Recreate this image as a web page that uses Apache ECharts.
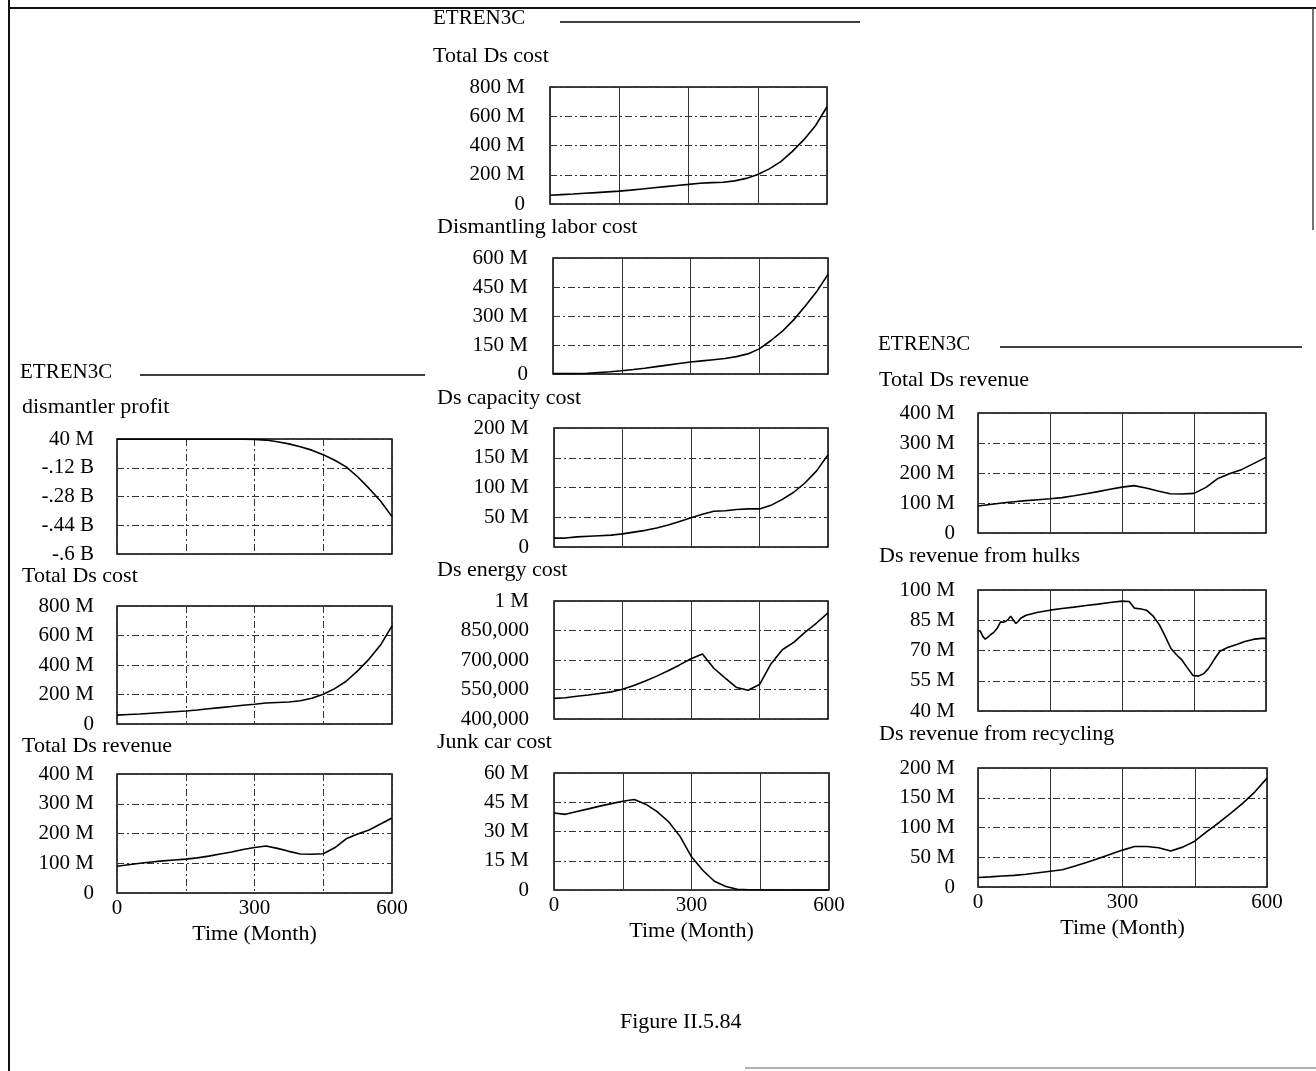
<!DOCTYPE html>
<html><head><meta charset="utf-8">
<script src="https://cdn.jsdelivr.net/npm/echarts@6/dist/echarts.min.js"></script>
<style>html,body{margin:0;padding:0;background:#fff}#c{width:1316px;height:1071px}</style>
</head><body><div id="c"></div>
<script>
// ---------- DATA ----------
const MONTHS = [0,25,50,75,100,125,150,175,200,225,250,275,300,325,350,375,400,425,450,475,500,525,550,575,600];
const PROFIT = [39,39,39,39,39,39,39,39,39,39,39,39,38,34,25,13,-3,-22,-47,-78,-115,-170,-235,-305,-392];
const TOTAL_COST = [60,64,68,73,78,83,88,95,103,111,119,127,134,142,146,149,158,175,202,240,290,360,440,535,665];
const TOTAL_REV = [90,95,100,104,108,111,114,118,124,131,138,146,153,158,150,140,131,130,132,152,182,198,212,232,252];
const LABOR = [2,2,2,3,8,12,17,23,30,38,46,54,62,68,74,80,90,104,130,172,220,280,350,425,515];
const CAPACITY = [15,15,17,18,19,20,22,25,28,32,37,43,49,55,60,61,63,64,64,70,80,92,108,128,155];
const ENERGY = [505000,508000,516000,522000,530000,538000,551000,570000,593000,618000,645000,675000,706000,730000,658000,608000,560000,546000,575000,680000,752000,790000,842000,888000,940000];
const JUNK = [39.5,38.8,40.3,41.6,43,44.3,45.5,46.4,44,40.2,35,27.5,17,10,4.5,1.8,0.4,0.1,0,0,0,0,0,0,0];
const RECYCLING = [16,17,18.5,19.5,21.5,24,26.5,29,35,41,48,55,62,68,68,66,60.5,67,77,93,108,124,141,160,183];
const HULK_MONTHS = [0,5,10,15,20,26,33,40,47,53,58,63,68,74,79,84,89,100,125,150,175,200,225,250,275,300,315,326,340,351,365,378,390,402,413,424,436,448,459,470,480,492,504,520,539,556,573,590,600];
const HULKS = [80,79.5,77,75.6,76.5,77.8,79,81,84.2,84,84.5,85.5,87,85,83.4,84.5,86,87.5,89,90,90.8,91.5,92.3,93,93.8,94.5,94.3,91,90.6,90,87,82.7,77,71,68,65.5,61.5,57.6,57.3,58.5,61,65.5,69.6,71.5,73,74.5,75.5,76,76];

// tick values and labels
const X_TICKS = [0,150,300,450,600];
const X_LABELS = [0,300,600];
const PROFIT_TICKS = [-600,-440,-280,-120,40];
const PROFIT_LABELS = ['-.6 B','-.44 B','-.28 B','-.12 B','40 M'];
const COST_TICKS = [0,200,400,600,800];
const COST_LABELS = ['0','200 M','400 M','600 M','800 M'];
const REV_TICKS = [0,100,200,300,400];
const REV_LABELS = ['0','100 M','200 M','300 M','400 M'];
const LABOR_TICKS = [0,150,300,450,600];
const LABOR_LABELS = ['0','150 M','300 M','450 M','600 M'];
const CAP_TICKS = [0,50,100,150,200];
const CAP_LABELS = ['0','50 M','100 M','150 M','200 M'];
const ENERGY_TICKS = [400000,550000,700000,850000,1000000];
const ENERGY_LABELS = ['400,000','550,000','700,000','850,000','1 M'];
const JUNK_TICKS = [0,15,30,45,60];
const JUNK_LABELS = ['0','15 M','30 M','45 M','60 M'];
const HULK_TICKS = [40,55,70,85,100];
const HULK_LABELS = ['40 M','55 M','70 M','85 M','100 M'];
const RECYC_TICKS = [0,50,100,150,200];
const RECYC_LABELS = ['0','50 M','100 M','150 M','200 M'];

// ---------- LAYOUT ----------
const FONT = 'Liberation Serif';
const panels = [
  {title:'dismantler profit', tx:22, ty:408, left:117, top:439, width:275, height:115, xs:MONTHS, ys:PROFIT, ticks:PROFIT_TICKS, labels:PROFIT_LABELS, margin:23, vsolid:false, xlab:false},
  {title:'Total Ds cost', tx:22, ty:577, left:117, top:606, width:275, height:118, xs:MONTHS, ys:TOTAL_COST, ticks:COST_TICKS, labels:COST_LABELS, margin:23, vsolid:false, xlab:false},
  {title:'Total Ds revenue', tx:22, ty:747, left:117, top:774, width:275, height:119, xs:MONTHS, ys:TOTAL_REV, ticks:REV_TICKS, labels:REV_LABELS, margin:23, vsolid:false, xlab:true},
  {title:'Total Ds cost', tx:433, ty:57, left:550, top:87, width:277, height:117, xs:MONTHS, ys:TOTAL_COST, ticks:COST_TICKS, labels:COST_LABELS, margin:25, vsolid:true, xlab:false},
  {title:'Dismantling labor cost', tx:437, ty:228, left:553, top:258, width:275, height:116, xs:MONTHS, ys:LABOR, ticks:LABOR_TICKS, labels:LABOR_LABELS, margin:25, vsolid:true, xlab:false},
  {title:'Ds capacity cost', tx:437, ty:399, left:554, top:428, width:274, height:119, xs:MONTHS, ys:CAPACITY, ticks:CAP_TICKS, labels:CAP_LABELS, margin:25, vsolid:true, xlab:false},
  {title:'Ds energy cost', tx:437, ty:571, left:554, top:601, width:274, height:118, xs:MONTHS, ys:ENERGY, ticks:ENERGY_TICKS, labels:ENERGY_LABELS, margin:25, vsolid:true, xlab:false},
  {title:'Junk car cost', tx:437, ty:743, left:554, top:773, width:275, height:117, xs:MONTHS, ys:JUNK, ticks:JUNK_TICKS, labels:JUNK_LABELS, margin:25, vsolid:true, xlab:true},
  {title:'Total Ds revenue', tx:879, ty:381, left:978, top:413, width:288, height:120, xs:MONTHS, ys:TOTAL_REV, ticks:REV_TICKS, labels:REV_LABELS, margin:23, vsolid:true, xlab:false},
  {title:'Ds revenue from hulks', tx:879, ty:557, left:978, top:590, width:288, height:121, xs:HULK_MONTHS, ys:HULKS, ticks:HULK_TICKS, labels:HULK_LABELS, margin:23, vsolid:true, xlab:false},
  {title:'Ds revenue from recycling', tx:879, ty:735, left:978, top:768, width:289, height:119, xs:MONTHS, ys:RECYCLING, ticks:RECYC_TICKS, labels:RECYC_LABELS, margin:23, vsolid:true, xlab:true}
];

const GRID_DASH = [7,3,2,3];
const textStyleBase = {fontFamily:FONT, color:'#000'};

const option = {
  animation:false,
  backgroundColor:'#fff',
  grid: panels.map(p => ({left:p.left, top:p.top, width:p.width, height:p.height, show:true, borderColor:'#000', borderWidth:1.5, backgroundColor:'transparent', containLabel:false})),
  xAxis: panels.map((p,i) => ({
    type:'value', gridIndex:i, min:0, max:600, interval:150,
    axisLine:{show:false}, axisTick:{show:false},
    splitLine:{show:true, lineStyle:{color:'#333', width:1, type: p.vsolid ? 'solid' : GRID_DASH}},
    axisLabel:{show:p.xlab, formatter: v => X_LABELS.indexOf(v) >= 0 ? String(v) : '', fontFamily:FONT, fontSize:21, color:'#000', margin:5, showMinLabel:true, showMaxLabel:true, hideOverlap:false},
    name: p.xlab ? 'Time (Month)' : '', nameLocation:'middle', nameGap:30,
    nameTextStyle:{fontFamily:FONT, fontSize:22, color:'#000'}
  })),
  yAxis: panels.map((p,i) => ({
    type:'value', gridIndex:i, min:p.ticks[0], max:p.ticks[p.ticks.length-1],
    axisLine:{show:false},
    axisTick:{show:false, customValues:p.ticks},
    splitLine:{show:true, lineStyle:{color:'#333', width:1, type:GRID_DASH}},
    axisLabel:{customValues:p.ticks, formatter: v => { const k = p.ticks.indexOf(v); return k >= 0 ? p.labels[k] : ''; }, fontFamily:FONT, fontSize:21, color:'#000', margin:p.margin, hideOverlap:false}
  })),
  series: panels.map((p,i) => ({
    type:'line', xAxisIndex:i, yAxisIndex:i, showSymbol:false, silent:true,
    data: p.xs.map((x,k) => [x, p.ys[k]]),
    lineStyle:{color:'#000', width:1.6}
  })),
  graphic: [
    // page frame
    {type:'line', shape:{x1:9, y1:0, x2:9, y2:1071}, style:{stroke:'#111', lineWidth:2}},
    {type:'line', shape:{x1:9, y1:8, x2:1316, y2:8}, style:{stroke:'#111', lineWidth:2}},
    {type:'line', shape:{x1:1313, y1:8, x2:1313, y2:230}, style:{stroke:'#444', lineWidth:1.5}},
    {type:'line', shape:{x1:745, y1:1068, x2:1316, y2:1068}, style:{stroke:'#999', lineWidth:1.5}},
    // headers
    {type:'text', left:20, top:362, style:Object.assign({text:'ETREN3C', font:'21px "Liberation Serif"'}, {fill:'#000'})},
    {type:'line', shape:{x1:140, y1:375, x2:425, y2:375}, style:{stroke:'#000', lineWidth:1.5}},
    {type:'text', left:433, top:8, style:{text:'ETREN3C', font:'21px "Liberation Serif"', fill:'#000'}},
    {type:'line', shape:{x1:560, y1:22, x2:860, y2:22}, style:{stroke:'#000', lineWidth:1.5}},
    {type:'text', left:878, top:334, style:{text:'ETREN3C', font:'21px "Liberation Serif"', fill:'#000'}},
    {type:'line', shape:{x1:1000, y1:347, x2:1302, y2:347}, style:{stroke:'#000', lineWidth:1.5}},
    // caption
    {type:'text', left:620, top:1011, style:{text:'Figure II.5.84', font:'22px "Liberation Serif"', fill:'#000'}}
  ].concat(panels.map(p => ({type:'text', left:p.tx, top:p.ty - 12, style:{text:p.title, font:'22px "Liberation Serif"', fill:'#000'}})))
};

const chart = echarts.init(document.getElementById('c'), null, {renderer:'canvas'});
chart.setOption(option);
</script>
</body></html>
